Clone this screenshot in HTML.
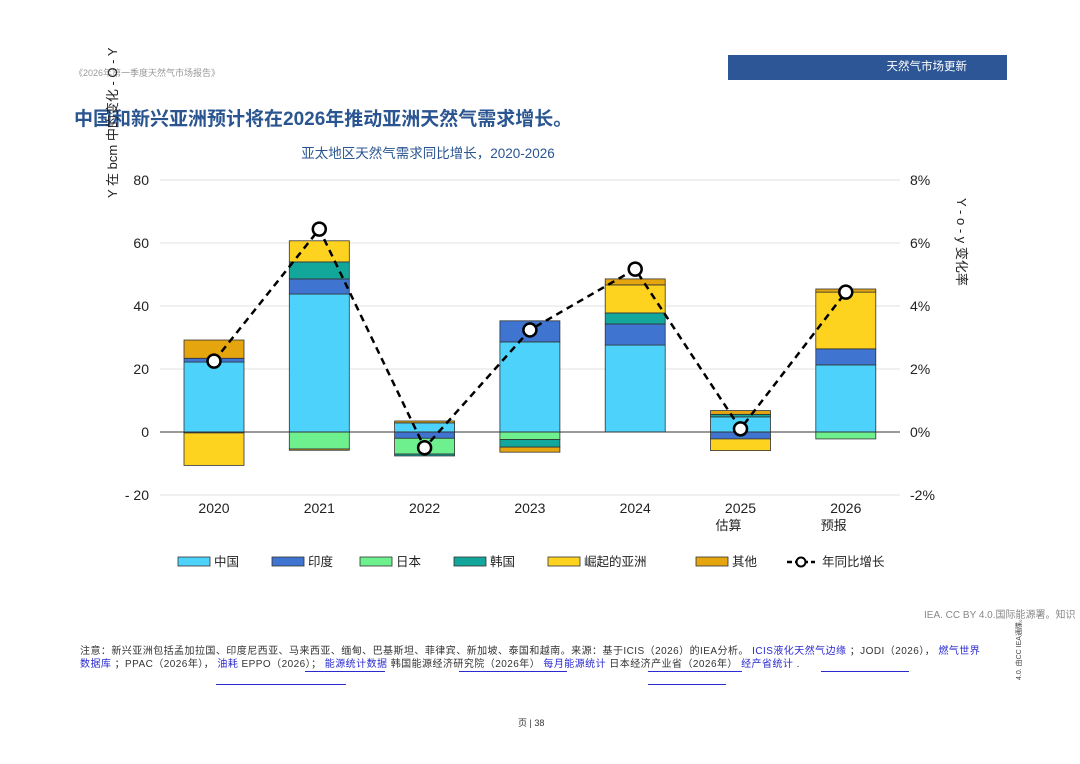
<!DOCTYPE html>
<html><head><meta charset="utf-8">
<style>
body{margin:0;background:#fff;font-family:"Liberation Sans","Noto Sans CJK SC",sans-serif;}
#page{position:relative;width:1080px;height:764px;overflow:hidden;background:#fff;}
.abs{position:absolute;white-space:nowrap;}
a{color:#2a2ad0;text-decoration:none}
</style></head><body>
<div id="page">
<div class="abs" style="left:74px;top:66px;font-size:9px;color:#999">《2026年第一季度天然气市场报告》</div>
<div class="abs" style="left:728px;top:55px;width:279px;height:25px;background:#2d5697;color:#fff;font-size:11.5px;line-height:25px;text-align:right;box-sizing:border-box"><span style="padding-right:40px">天然气市场更新</span></div>
<div class="abs" style="left:74px;top:104px;font-size:19px;font-weight:bold;color:#2a5590">中国和新兴亚洲预计将在2026年推动亚洲天然气需求增长。</div>
<svg class="abs" style="left:0;top:0" width="1080" height="764" id="chart"></svg>
<div class="abs" style="left:924px;top:606px;font-size:10px;color:#888">IEA. CC BY 4.0.国际能源署。知识</div>
<div class="abs" style="left:80px;top:645px;font-size:10px;line-height:13px;color:#333;letter-spacing:0.45px">注意：新兴亚洲包括孟加拉国、印度尼西亚、马来西亚、缅甸、巴基斯坦、菲律宾、新加坡、泰国和越南。来源：基于ICIS（2026）的IEA分析。 <a>ICIS液化天然气边缘</a> ；JODI（2026）， <a>燃气世界</a><br><a>数据库</a> ；PPAC（2026年）， <a>油耗</a> EPPO（2026）； <a>能源统计数据</a> 韩国能源经济研究院（2026年） <a>每月能源统计</a> 日本经济产业省（2026年） <a>经产省统计</a> .</div>
<div class="abs" style="left:0;top:0">
<div class="abs" style="left:305px;top:671px;width:80px;height:1px;background:#2a2ad0"></div>
<div class="abs" style="left:459px;top:671px;width:108px;height:1px;background:#2a2ad0"></div>
<div class="abs" style="left:648px;top:671px;width:94px;height:1px;background:#2a2ad0"></div>
<div class="abs" style="left:821px;top:671px;width:88px;height:1px;background:#2a2ad0"></div>
<div class="abs" style="left:216px;top:684px;width:130px;height:1px;background:#2a2ad0"></div>
<div class="abs" style="left:648px;top:684px;width:78px;height:1px;background:#2a2ad0"></div>
</div>
<div class="abs" style="left:1014px;top:680px;font-size:7px;color:#444;transform:rotate(-90deg);transform-origin:0 0">4.0. 由CC IEA通牒。</div>
<div class="abs" style="left:518px;top:716px;font-size:9px;color:#333">页 | 38</div>
</div>
<script>
const years=["2020","2021","2022","2023","2024","2025","2026"];
const subLabels=["","","","","","估算","预报"];
const china=[22.2,43.8,2.9,28.6,27.6,4.8,21.3];
const india=[1.2,4.8,-2.0,6.7,6.7,-2.2,5.1];
const japan=[-0.3,-5.4,-5.0,-2.4,0,0,-2.2];
const korea=[0,5.4,-0.6,-2.4,3.5,0.8,0];
const emAsia=[-10.3,6.7,0,0,8.9,-3.7,18];
const other=[5.8,-0.4,0.6,-1.6,1.9,1.2,1];
const yoy=[2.25,6.44,-0.5,3.24,5.17,0.1,4.44];
const leftTicks=[80,60,40,20,0,-20];
const rightTicks=["8%","6%","4%","2%","0%","-2%"];
const seriesNames=["中国","印度","日本","韩国","崛起的亚洲","其他"];
const seriesColors=["#4dd2fb","#3f74d0","#6ef08f","#12a79a","#fdd320","#e4a50f"];
const seriesData=[china,india,japan,korea,emAsia,other];

const svg=document.getElementById('chart');
const NS="http://www.w3.org/2000/svg";
const y=v=>432-v*3.15;
const yr=p=>432-p*31.5;
const x=i=>214+i*105.3;
function mk(tag,attrs,parent){const e=document.createElementNS(NS,tag);for(const k in attrs)e.setAttribute(k,attrs[k]);(parent||svg).appendChild(e);return e;}
function txt(s,attrs){const t=mk('text',attrs);t.textContent=s;return t;}

const sub=txt("亚太地区天然气需求同比增长，2020-2026",{x:428,y:158,'text-anchor':'middle','font-size':13.5,fill:'#2a5590'});



leftTicks.forEach((v,i)=>{
  if(v!==0){const g=mk('line',{x1:160,x2:900,y1:y(v),y2:y(v),stroke:'#e2e2e2','stroke-width':1});
  
  }
  const t=txt(v<0?"- "+(-v):String(v),{x:149,y:y(v)+5,'text-anchor':'end','font-size':14,fill:'#222'});
  
  
  const r=txt(rightTicks[i],{x:910,y:y(v)+5,'font-size':14,fill:'#222'});
  
  
});

years.forEach((yrL,i)=>{
  let pos=0,neg=0;
  seriesData.forEach((s,k)=>{
    const v=s[i];if(!v)return;
    let y0,y1;
    if(v>0){y0=pos;pos+=v;y1=pos;}else{y0=neg;neg+=v;y1=neg;}
    const r=mk('rect',{x:x(i)-30,width:60,y:Math.min(y(y0),y(y1)),height:Math.abs(y(y1)-y(y0)),fill:seriesColors[k],stroke:'#333','stroke-width':0.8});
    
    
  });
  const t=txt(yrL,{x:x(i),y:513,'text-anchor':'middle','font-size':14,fill:'#222'});
  
  
  if(subLabels[i]){const s=txt(subLabels[i],{x:x(i)-12,y:530,'text-anchor':'middle','font-size':13,fill:'#222'});
  
  }
});
const zl=mk('line',{x1:160,x2:900,y1:432,y2:432,stroke:'#333','stroke-width':1});



const pts=yoy.map((p,i)=>x(i)+","+yr(p)).join(" ");
const pl=mk('polyline',{points:pts,fill:'none',stroke:'#000','stroke-width':2.5,'stroke-dasharray':'7,5'});


yoy.forEach((p,i)=>{const c=mk('circle',{cx:x(i),cy:yr(p),r:6.5,fill:'#fff',stroke:'#000','stroke-width':2.5});

});

const lx=[178,272,360,454,548,696];
seriesNames.forEach((n,k)=>{
  const r=mk('rect',{x:lx[k],y:557,width:32,height:9,fill:seriesColors[k],stroke:'#333','stroke-width':0.8});
  
  
  const t=txt(n,{x:lx[k]+36,y:566,'font-size':12.5,fill:'#222'});
  
  
});
const ll=mk('line',{x1:787,x2:815,y1:562,y2:562,stroke:'#000','stroke-width':2.5,'stroke-dasharray':'5,3'});


const lc=mk('circle',{cx:801,cy:562,r:4.5,fill:'#fff',stroke:'#000','stroke-width':2});


const lt=txt("年同比增长",{x:822,y:566,'font-size':12.5,fill:'#222'});



const la=txt("Y 在 bcm 中的变化 - O - Y",{x:0,y:0,'font-size':13,fill:'#222',transform:'translate(117,198) rotate(-90)'});


const ra=txt("Y - o - y 变化率",{x:0,y:0,'font-size':13,fill:'#222',transform:'translate(957,198) rotate(90)'});


</script>
</body></html>
